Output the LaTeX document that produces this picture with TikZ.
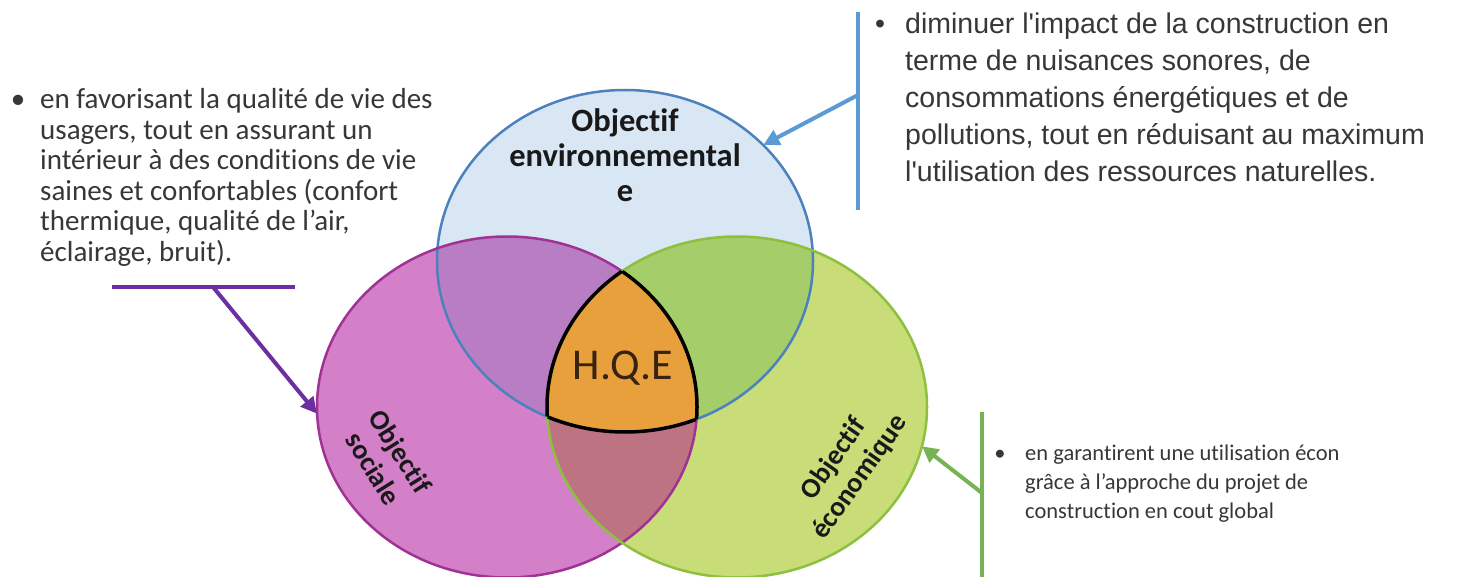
\documentclass[tikz,border=0pt]{standalone}
\usepackage{fontspec}
\setmainfont{Carlito}[Ligatures=NoCommon]
\newfontfamily\arialfont{Liberation Sans}
\usetikzlibrary{arrows.meta,shapes.geometric}
\definecolor{envfill}{RGB}{217,230,244}
\definecolor{envline}{RGB}{75,130,190}
\definecolor{socfill}{RGB}{212,128,200}
\definecolor{socline}{RGB}{160,50,150}
\definecolor{ecofill}{RGB}{200,220,120}
\definecolor{ecoline}{RGB}{141,192,63}
\definecolor{envsoc}{RGB}{185,125,195}
\definecolor{enveco}{RGB}{165,205,105}
\definecolor{soceco}{RGB}{190,115,130}
\definecolor{hqefill}{RGB}{232,160,60}
\definecolor{txt}{RGB}{55,55,55}
\definecolor{lab}{RGB}{25,25,25}
\definecolor{arrblue}{RGB}{91,155,213}
\definecolor{arrpurple}{RGB}{106,47,160}
\definecolor{arrgreen}{RGB}{119,179,85}
\newcommand{\txtlines}[1]{\begin{tabular}[t]{@{}l@{}}#1\end{tabular}}
\begin{document}
\begin{tikzpicture}[x=1pt,y=-1pt,
  ell/.style={shape=ellipse,inner sep=0pt,draw=none},
  bar/.style={line width=4pt},
  tip/.style={-{Triangle[length=16pt,width=16pt]}},
  circlab/.style={font=\bfseries\fontsize{28}{32}\selectfont,align=center,text=lab},
  para/.style={anchor=base west,inner sep=0pt,text=txt},
  bul/.style={anchor=base,inner sep=0pt,text=txt}]
\useasboundingbox (0,0) rectangle (1458,577);
\fill[white] (0,0) rectangle (1458,577);
% circles
\node[ell,fill=envfill,minimum width=376pt,minimum height=342pt] (env) at (625,261) {};
\node[ell,fill=socfill,minimum width=380pt,minimum height=341pt] (soc) at (507,407) {};
\node[ell,fill=ecofill,minimum width=380pt,minimum height=341pt] (eco) at (737,407) {};
\begin{scope}
  \clip (625,261) ellipse [x radius=188,y radius=171];
  \fill[envsoc] (507,407) ellipse [x radius=190,y radius=170.5];
  \fill[enveco] (737,407) ellipse [x radius=190,y radius=170.5];
\end{scope}
\begin{scope}
  \clip (507,407) ellipse [x radius=190,y radius=170.5];
  \fill[soceco] (737,407) ellipse [x radius=190,y radius=170.5];
  \clip (737,407) ellipse [x radius=190,y radius=170.5];
  \fill[hqefill] (625,261) ellipse [x radius=188,y radius=171];
\end{scope}
\draw[envline,line width=2.5pt] (625,261) ellipse [x radius=188,y radius=171];
\draw[socline,line width=2.5pt] (507,407) ellipse [x radius=190,y radius=170.5];
\draw[ecoline,line width=2.5pt] (737,407) ellipse [x radius=190,y radius=170.5];
% black border of the centre
\begin{scope}
  \clip (507,407) ellipse [x radius=190,y radius=170.5];
  \clip (737,407) ellipse [x radius=190,y radius=170.5];
  \draw[black,line width=3.5pt] (625,261) ellipse [x radius=188,y radius=171];
\end{scope}
\begin{scope}
  \clip (625,261) ellipse [x radius=188,y radius=171];
  \clip (737,407) ellipse [x radius=190,y radius=170.5];
  \draw[black,line width=3.5pt] (507,407) ellipse [x radius=190,y radius=170.5];
\end{scope}
\begin{scope}
  \clip (625,261) ellipse [x radius=188,y radius=171];
  \clip (507,407) ellipse [x radius=190,y radius=170.5];
  \draw[black,line width=3.5pt] (737,407) ellipse [x radius=190,y radius=170.5];
\end{scope}
% labels
\node[font=\fontsize{44}{44}\selectfont,text={rgb,255:red,55;green,35;blue,15}] (hqe) at (623,368) {H.Q.E};
\node[circlab,font=\bfseries\fontsize{32.5}{35}\selectfont] (envlab) at (625,155) {Objectif\\environnemental\\e};
\node[circlab,rotate=-58] (soclab) at (387,460) {Objectif\\sociale};
\node[circlab,rotate=55] (ecolab) at (847,468) {Objectif\\économique};
% connectors
\coordinate (bt) at (858,12);
\coordinate (bb) at (858,210);
\coordinate (bj) at (858,95);
\draw[arrblue,bar] (bt) -- (bb);
\draw[arrblue,bar,tip] (bj) -- (env.40);
\coordinate (pl) at (112,287);
\coordinate (pr) at (295,287);
\coordinate (pj) at (213,287);
\draw[arrpurple,bar] (pl) -- (pr);
\draw[arrpurple,bar,tip] (pj) -- (soc.182);
\coordinate (gt) at (982,412);
\coordinate (gb) at (982,577);
\coordinate (gj) at (982,493);
\draw[arrgreen,bar] (gt) -- (gb);
\draw[arrgreen,bar,tip] (gj) -- (eco.-12);
% texts
\node[bul,font=\fontsize{29}{30.5}\selectfont] (lbul) at (18,109) {•};
\node[para,font=\fontsize{29}{30.5}\selectfont] (ltxt) at (40,109) {\txtlines{en favorisant la qualité de vie des\\usagers, tout en assurant un\\intérieur à des conditions de vie\\saines et confortables (confort\\thermique, qualité de l'air,\\éclairage, bruit).}};
\node[bul,font=\arialfont\fontsize{28.5}{37}\selectfont] (rbul) at (880,34) {•};
\node[para,font=\arialfont\fontsize{28.5}{37}\selectfont] (rtxt) at (905,34) {\txtlines{diminuer l'impact de la construction en\\terme de nuisances sonores, de\\consommations énergétiques et de\\pollutions, tout en réduisant au maximum\\l'utilisation des ressources naturelles.}};
\node[bul,font=\fontsize{22.5}{29}\selectfont] (bbul) at (1000,460) {•};
\node[para,font=\fontsize{22.5}{29}\selectfont] (btxt) at (1025,460) {\txtlines{en garantirent une utilisation écon\\grâce à l'approche du projet de\\construction en cout global}};
\end{tikzpicture}
\end{document}
